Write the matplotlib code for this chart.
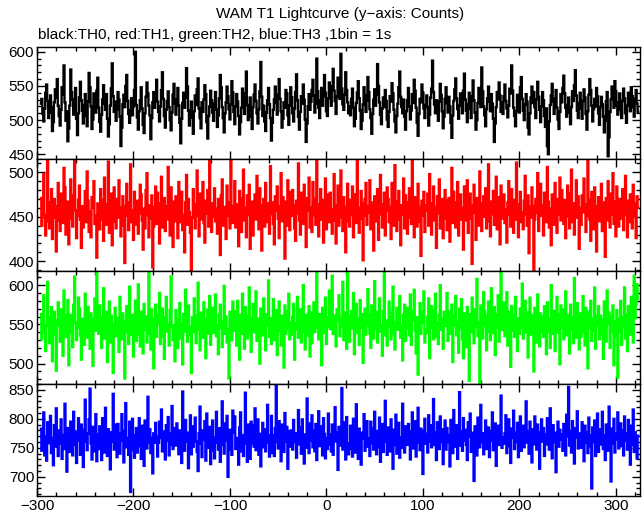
import numpy as np
import matplotlib
matplotlib.use('Agg')
import matplotlib.pyplot as plt
from matplotlib.ticker import MultipleLocator

# time of first bin (s), 1 bin = 1 s
t_start = -296

th0 = [
    524, 531, 509, 498, 517, 540, 552, 528, 503, 511, 536, 519, 484, 497, 526, 545, 533, 560, 521, 506,
    492, 515, 548, 537, 580, 526, 499, 513, 469, 488, 521, 574, 541, 530, 508, 516, 547, 502, 478, 510,
    533, 556, 529, 514, 495, 522, 538, 506, 491, 527, 569, 548, 520, 487, 501, 539, 525, 511, 543, 562,
    518, 497, 483, 508, 530, 551, 524, 515, 538, 502, 476, 494, 521, 546, 583, 535, 512, 527, 499, 516,
    541, 530, 505, 462, 489, 523, 537, 519, 550, 566, 528, 509, 496, 514, 532, 507, 520, 544, 600, 522,
    504, 486, 513, 529, 548, 517, 493, 481, 510, 534, 555, 539, 521, 507, 472, 503, 526, 541, 518, 535,
    559, 527, 512, 498, 520, 544, 570, 531, 506, 489, 515, 528, 542, 519, 500, 485, 511, 537, 553, 524,
    508, 530, 547, 521, 496, 466, 502, 525, 540, 518, 533, 576, 549, 514, 492, 509, 527, 504, 480, 513,
    536, 522, 545, 561, 517, 503, 488, 526, 512, 530, 551, 538, 497, 473, 506, 520, 543, 529, 511, 499,
    524, 541, 515, 490, 507, 532, 566, 548, 519, 503, 482, 510, 526, 549, 535, 516, 501, 523, 557, 540,
    512, 494, 520, 538, 527, 506, 479, 497, 518, 546, 531, 509, 539, 571, 522, 500, 514, 533, 505, 487,
    519, 537, 552, 528, 510, 495, 516, 542, 585, 534, 506, 521, 498, 484, 511, 529, 547, 523, 503, 470,
    496, 515, 530, 549, 525, 508, 537, 560, 531, 513, 489, 502, 526, 518, 544, 539, 507, 493, 521, 548,
    533, 510, 498, 517, 541, 567, 529, 505, 486, 512, 535, 524, 552, 530, 501, 468, 495, 520, 538, 515,
    527, 544, 559, 536, 511, 524, 590, 542, 518, 503, 529, 547, 521, 535, 566, 540, 513, 506, 532, 555,
    538, 521, 549, 575, 543, 528, 509, 534, 562, 551, 531, 597, 546, 523, 515, 537, 570, 544, 526, 510,
    520, 507, 531, 546, 518, 491, 502, 525, 540, 557, 532, 514, 487, 499, 523, 548, 536, 512, 529, 563,
    541, 516, 503, 480, 509, 530, 545, 521, 537, 582, 550, 526, 508, 494, 517, 533, 519, 544, 528, 501,
    490, 512, 535, 527, 554, 539, 515, 498, 482, 506, 524, 548, 571, 534, 519, 510, 530, 505, 486, 513,
    529, 547, 520, 501, 514, 538, 525, 559, 543, 518, 496, 477, 509, 531, 526, 552, 540, 517, 503, 522,
    536, 519, 492, 508, 533, 546, 587, 541, 523, 510, 529, 515, 499, 527, 553, 537, 513, 488, 505, 531,
    548, 525, 511, 534, 520, 496, 474, 507, 528, 545, 561, 532, 516, 502, 521, 539, 526, 510, 543, 568,
    530, 514, 497, 523, 540, 517, 503, 535, 558, 529, 511, 486, 500, 525, 547, 534, 519, 577, 542, 520,
    507, 491, 516, 532, 549, 527, 513, 538, 524, 502, 468, 495, 519, 541, 530, 555, 536, 512, 526, 509,
    535, 552, 528, 517, 504, 521, 546, 539, 580, 543, 518, 506, 491, 513, 537, 525, 511, 548, 563, 531,
    514, 500, 523, 538, 527, 489, 479, 510, 533, 549, 525, 541, 519, 503, 530, 556, 534, 515, 497, 520,
    541, 529, 506, 490, 517, 462, 450, 498, 522, 536, 553, 527, 509, 531, 544, 518, 501, 487, 512, 538,
    526, 547, 565, 539, 518, 505, 522, 533, 511, 494, 519, 542, 528, 551, 573, 536, 514, 503, 525, 540,
    517, 502, 528, 545, 533, 509, 486, 513, 537, 560, 544, 521, 498, 516, 531, 520, 547, 535, 510, 493,
    519, 534, 523, 505, 482, 499, 527, 541, 447, 475, 512, 530, 549, 536, 518, 557, 542, 521, 508, 526,
    539, 515, 503, 528, 546, 532, 510, 496, 521, 540, 527, 513, 548, 535, 519, 505, 531, 544, 524, 512,
]

th1 = [
    471, 440, 463, 498, 452, 429, 445, 517, 466, 437, 458, 481, 425, 449, 470, 462, 411, 446, 488, 455,
    434, 476, 459, 443, 505, 483, 430, 452, 467, 419, 448, 492, 461, 439, 474, 520, 457, 426, 451, 469,
    485, 447, 415, 462, 438, 453, 479, 444, 501, 468, 433, 456, 427, 472, 460, 490, 442, 451, 404, 465,
    458, 436, 481, 469, 447, 423, 494, 455, 441, 464, 512, 432, 450, 476, 418, 459, 483, 445, 437, 470,
    449, 491, 460, 428, 455, 473, 440, 398, 462, 487, 451, 435, 466, 509, 444, 457, 424, 478, 463, 441,
    468, 431, 454, 486, 475, 446, 413, 459, 437, 480, 499, 452, 427, 463, 448, 474, 393, 439, 461, 484,
    442, 477, 465, 420, 450, 495, 438, 457, 471, 434, 462, 447, 506, 458, 429, 483, 453, 416, 467, 445,
    473, 456, 426, 489, 444, 461, 478, 435, 452, 410, 466, 497, 441, 470, 455, 432, 386, 449, 481, 464,
    437, 463, 502, 451, 428, 476, 447, 460, 489, 443, 421, 468, 454, 480, 439, 514, 457, 433, 465, 450,
    482, 445, 459, 431, 470, 453, 407, 474, 492, 440, 461, 448, 425, 485, 466, 451, 437, 519, 462, 443,
    456, 490, 438, 464, 449, 417, 479, 458, 433, 471, 503, 446, 460, 427, 474, 452, 486, 414, 441, 467,
    429, 461, 475, 447, 496, 455, 436, 482, 463, 412, 450, 470, 439, 488, 458, 444, 465, 431, 507, 453,
    466, 442, 419, 473, 457, 484, 448, 426, 462, 499, 445, 472, 456, 403, 467, 440, 491, 459, 435, 478,
    451, 480, 463, 437, 423, 468, 454, 510, 446, 430, 477, 461, 442, 486, 449, 416, 471, 457, 494, 438,
    460, 433, 489, 470, 452, 441, 514, 464, 428, 455, 481, 447, 469, 421, 458, 493, 436, 475, 450, 444,
    477, 458, 431, 446, 498, 463, 420, 453, 485, 440, 467, 502, 449, 434, 472, 456, 410, 461, 487, 445,
    439, 469, 452, 484, 427, 457, 475, 443, 516, 460, 432, 448, 479, 465, 401, 451, 470, 488, 441, 462,
    455, 491, 436, 466, 450, 412, 473, 459, 445, 481, 424, 468, 497, 453, 438, 464, 477, 429, 457, 483,
    470, 444, 461, 425, 488, 453, 440, 508, 467, 434, 456, 479, 447, 418, 463, 452, 493, 437, 474, 459,
    431, 466, 482, 449, 442, 521, 458, 427, 472, 455, 439, 487, 461, 445, 406, 468, 451, 478, 433, 463,
    457, 476, 440, 498, 465, 430, 450, 484, 446, 461, 415, 473, 454, 492, 437, 459, 470, 426, 448, 480,
    468, 435, 456, 471, 422, 462, 505, 443, 478, 451, 438, 466, 489, 429, 457, 475, 447, 460, 413, 484,
    446, 469, 491, 432, 459, 476, 448, 397, 463, 486, 455, 424, 471, 452, 440, 501, 465, 434, 458, 473,
    450, 482, 437, 464, 509, 445, 428, 467, 453, 479, 441, 460, 495, 436, 472, 457, 419, 485, 448, 462,
    475, 443, 458, 421, 466, 490, 452, 439, 481, 460, 432, 469, 447, 511, 456, 427, 464, 478, 444, 455,
    436, 468, 496, 453, 440, 474, 409, 461, 449, 483, 462, 390, 447, 470, 455, 499, 434, 461, 487, 451,
    463, 429, 477, 452, 444, 506, 467, 438, 459, 418, 475, 456, 441, 488, 461, 432, 470, 453, 494, 446,
    480, 457, 442, 469, 426, 462, 485, 450, 437, 476, 503, 444, 465, 430, 458, 491, 449, 473, 414, 460,
    441, 474, 455, 493, 464, 433, 451, 515, 469, 447, 423, 478, 458, 436, 483, 462, 411, 456, 472, 445,
    458, 487, 434, 466, 450, 405, 471, 446, 490, 461, 438, 476, 453, 499, 442, 467, 428, 484, 455, 439,
    470, 448, 463, 481, 435, 457, 496, 452, 427, 468, 444, 475, 459, 437, 486, 465, 450, 426, 473, 460,
]

th2 = [
    563, 531, 552, 587, 540, 516, 548, 604, 559, 526, 541, 572, 503, 544, 566, 537, 491, 555, 578, 549,
    528, 569, 545, 510, 593, 561, 534, 550, 581, 498, 539, 562, 547, 521, 575, 611, 552, 530, 546, 584,
    570, 536, 505, 557, 543, 524, 589, 560, 533, 572, 548, 519, 564, 540, 497, 556, 583, 542, 622, 551,
    538, 574, 559, 520, 547, 596, 532, 554, 566, 502, 543, 579, 527, 561, 550, 488, 545, 571, 535, 558,
    549, 515, 585, 546, 531, 564, 554, 481, 540, 573, 558, 525, 598, 544, 537, 562, 509, 552, 580, 529,
    557, 601, 537, 522, 566, 548, 513, 576, 543, 560, 527, 553, 617, 539, 518, 569, 546, 494, 556, 575,
    534, 562, 551, 590, 525, 544, 570, 536, 506, 559, 585, 541, 550, 523, 568, 611, 547, 530, 549, 503,
    568, 545, 520, 556, 577, 532, 551, 499, 563, 541, 594, 552, 528, 574, 546, 537, 488, 559, 540, 583,
    547, 526, 561, 603, 544, 517, 565, 550, 533, 578, 556, 507, 545, 569, 538, 586, 524, 549, 571, 539,
    559, 588, 535, 549, 512, 562, 575, 546, 521, 554, 599, 538, 560, 527, 543, 481, 566, 551, 530, 579,
    542, 567, 556, 523, 580, 547, 505, 562, 538, 589, 553, 519, 572, 545, 532, 560, 597, 541, 515, 557,
    576, 540, 551, 592, 529, 557, 546, 500, 570, 555, 536, 583, 548, 517, 563, 549, 606, 534, 558, 525,
    553, 582, 530, 547, 568, 511, 556, 579, 542, 523, 561, 550, 495, 574, 538, 566, 545, 589, 531, 552,
    537, 560, 576, 505, 551, 544, 585, 533, 558, 569, 527, 548, 600, 541, 518, 562, 554, 536, 573, 509,
    565, 526, 549, 578, 540, 557, 616, 546, 531, 563, 550, 498, 571, 552, 539, 584, 525, 559, 547, 593,
    544, 572, 612, 538, 561, 549, 522, 569, 555, 587, 535, 558, 547, 604, 530, 565, 551, 519, 628, 560,
    528, 553, 567, 545, 590, 512, 548, 576, 539, 557, 524, 581, 546, 563, 501, 555, 570, 537, 549, 595,
    562, 538, 520, 574, 551, 532, 605, 544, 566, 527, 558, 583, 541, 549, 510, 567, 615, 536, 555, 523,
    548, 579, 555, 531, 564, 598, 540, 518, 552, 571, 543, 560, 586, 533, 548, 504, 562, 575, 529, 553,
    571, 545, 536, 588, 524, 556, 567, 594, 542, 513, 559, 486, 549, 577, 538, 565, 552, 592, 527, 544,
    539, 560, 583, 507, 555, 573, 546, 531, 568, 589, 534, 552, 525, 562, 600, 543, 557, 519, 566, 548,
    556, 590, 529, 547, 566, 538, 575, 502, 549, 561, 586, 536, 553, 514, 570, 545, 582, 531, 507, 564,
    543, 521, 572, 551, 478, 563, 540, 584, 556, 526, 569, 547, 608, 535, 552, 470, 574, 549, 532, 591,
    567, 548, 517, 560, 579, 541, 530, 596, 552, 539, 572, 511, 563, 546, 587, 528, 550, 619, 543, 558,
    578, 535, 559, 591, 523, 566, 549, 496, 573, 542, 561, 534, 585, 553, 516, 558, 538, 570, 546, 602,
    532, 557, 580, 540, 565, 508, 554, 584, 537, 562, 548, 490, 571, 556, 527, 588, 545, 522, 564, 541,
    560, 534, 573, 549, 512, 578, 541, 557, 520, 600, 552, 538, 567, 516, 555, 585, 540, 563, 499, 574,
    546, 569, 531, 555, 592, 536, 562, 548, 513, 575, 543, 559, 526, 609, 547, 533, 577, 552, 518, 564,
    534, 562, 586, 541, 523, 571, 553, 494, 566, 546, 580, 529, 557, 542, 597, 519, 560, 548, 573, 531,
    561, 537, 556, 506, 579, 545, 528, 593, 551, 565, 520, 560, 541, 574, 498, 554, 535, 568, 482, 557,
    540, 580, 524, 559, 547, 597, 532, 563, 516, 573, 550, 537, 585, 545, 527, 612, 558, 575, 601, 583,
]

th3 = [
    783, 745, 762, 811, 737, 770, 728, 794, 758, 776, 805, 741, 767, 720, 789, 752, 818, 763, 736, 780,
    757, 799, 731, 772, 748, 826, 766, 709, 784, 760, 743, 795, 771, 737, 812, 756, 778, 724, 763, 801,
    769, 738, 790, 752, 717, 781, 833, 761, 746, 775, 799, 852, 758, 730, 786, 744, 765, 808, 727, 773,
    748, 787, 764, 729, 801, 759, 742, 819, 770, 736, 782, 755, 713, 777, 761, 843, 747, 790, 768, 734,
    791, 756, 740, 774, 808, 762, 725, 779, 827, 751, 767, 738, 795, 674, 746, 800, 771, 733, 760, 784,
    742, 776, 801, 753, 731, 788, 764, 719, 797, 772, 749, 838, 760, 782, 741, 767, 706, 775, 759, 793,
    770, 735, 759, 795, 767, 816, 744, 778, 752, 730, 789, 762, 803, 737, 774, 756, 822, 748, 784, 765,
    754, 792, 768, 739, 780, 757, 724, 847, 771, 745, 798, 761, 776, 715, 763, 806, 739, 787, 752, 773,
    802, 761, 743, 710, 775, 821, 757, 734, 780, 764, 796, 728, 809, 769, 750, 786, 722, 761, 797, 745,
    732, 768, 812, 759, 747, 784, 726, 771, 830, 755, 740, 792, 763, 805, 700, 747, 781, 766, 738, 814,
    776, 804, 748, 767, 753, 721, 785, 811, 744, 772, 736, 761, 845, 757, 726, 790, 769, 731, 795, 758,
    789, 752, 818, 746, 763, 799, 738, 774, 718, 768, 793, 751, 782, 744, 777, 824, 759, 735, 771, 805,
    741, 771, 736, 784, 857, 760, 749, 796, 766, 727, 790, 774, 743, 810, 761, 786, 714, 758, 779, 752,
    780, 747, 798, 760, 775, 733, 769, 815, 756, 785, 740, 799, 764, 723, 773, 750, 835, 778, 741, 792,
    762, 806, 751, 779, 744, 791, 729, 770, 813, 753, 787, 766, 737, 801, 774, 732, 767, 748, 809, 756,
    773, 744, 790, 738, 766, 820, 761, 777, 712, 786, 754, 771, 853, 747, 794, 769, 730, 803, 758, 739,
    749, 788, 763, 735, 800, 757, 742, 825, 768, 731, 783, 759, 721, 776, 766, 808, 745, 772, 796, 752,
    766, 736, 795, 758, 784, 747, 812, 760, 739, 779, 751, 802, 726, 770, 791, 743, 774, 831, 761, 738,
    785, 762, 744, 799, 770, 714, 781, 755, 807, 740, 772, 793, 733, 768, 750, 826, 765, 742, 787, 776,
    755, 791, 767, 730, 778, 811, 749, 772, 796, 735, 764, 819, 759, 746, 783, 769, 705, 779, 800, 757,
    774, 742, 806, 761, 789, 751, 768, 834, 755, 777, 729, 794, 766, 748, 804, 760, 782, 722, 770, 797,
    747, 784, 760, 772, 718, 798, 765, 741, 815, 773, 752, 789, 731, 767, 846, 754, 778, 745, 801, 763,
    781, 755, 729, 794, 769, 809, 743, 776, 758, 693, 787, 764, 737, 802, 770, 751, 824, 760, 775, 739,
    766, 797, 748, 773, 785, 734, 779, 762, 811, 746, 771, 792, 719, 763, 788, 755, 780, 840, 750, 768,
    757, 775, 806, 741, 764, 799, 753, 724, 783, 767, 814, 748, 776, 760, 793, 734, 772, 804, 745, 769,
    788, 751, 767, 830, 759, 778, 740, 795, 764, 725, 782, 756, 804, 770, 747, 790, 763, 714, 777, 799,
    761, 784, 736, 773, 756, 801, 769, 747, 818, 765, 732, 789, 760, 776, 708, 772, 795, 752, 781, 764,
    773, 745, 791, 764, 737, 807, 770, 855, 754, 779, 742, 796, 761, 723, 784, 768, 813, 749, 775, 758,
    750, 794, 766, 727, 788, 759, 776, 741, 802, 771, 753, 680, 785, 760, 797, 736, 769, 809, 743, 782,
    779, 756, 812, 748, 771, 729, 790, 763, 745, 821, 767, 692, 783, 757, 800, 742, 774, 765, 811, 749,
    766, 792, 753, 780, 737, 804, 762, 775, 747, 798, 769, 721, 788, 755, 816, 743, 777, 764, 732, 771,
]

series = [th0, th1, th2, th3]
colors = ['black', '#ff0000', '#00ff00', '#0000ff']
ylims = [(443, 607), (389, 515), (474, 618), (667, 860)]
xlim = (-300, 325)

plt.rcParams['font.family'] = ['Liberation Sans', 'DejaVu Sans']
plt.rcParams['font.size'] = 11

fig = plt.figure(figsize=(6.43, 5.15), dpi=100)

# panel edges in pixels (figure is 643 x 515)
left, right = 37 / 643, 640 / 643
edges = [47, 159, 271, 384, 496]
H = 515

for i, (vals, col, yl) in enumerate(zip(series, colors, ylims)):
    top = 1 - edges[i] / H
    bot = 1 - edges[i + 1] / H
    ax = fig.add_axes([left, bot, right - left, top - bot])
    t = t_start + np.arange(len(vals))
    ax.step(t, vals, where='mid', color=col, lw=1.7, solid_joinstyle='miter')
    ax.set_xlim(*xlim)
    ax.set_ylim(*yl)
    ax.xaxis.set_major_locator(MultipleLocator(100))
    ax.xaxis.set_minor_locator(MultipleLocator(20))
    ax.yaxis.set_major_locator(MultipleLocator(50))
    ax.yaxis.set_minor_locator(MultipleLocator(10))
    ax.tick_params(which='both', direction='in', top=True, right=True, width=1.0)
    ax.tick_params(which='major', length=6, labelsize=11, pad=2)
    ax.tick_params(which='minor', length=3)
    for s in ax.spines.values():
        s.set_linewidth(1.0)
    if i < 3:
        ax.tick_params(labelbottom=False)

fig.text(340 / 643, 1 - 14 / H, 'WAM T1 Lightcurve (y\u2212axis: Counts)',
         ha='center', va='center', fontsize=11)
fig.text(38 / 643, 1 - 35 / H, 'black:TH0, red:TH1, green:TH2, blue:TH3 ,1bin = 1s',
         ha='left', va='center', fontsize=11)

fig.savefig('out.png', dpi=100)
